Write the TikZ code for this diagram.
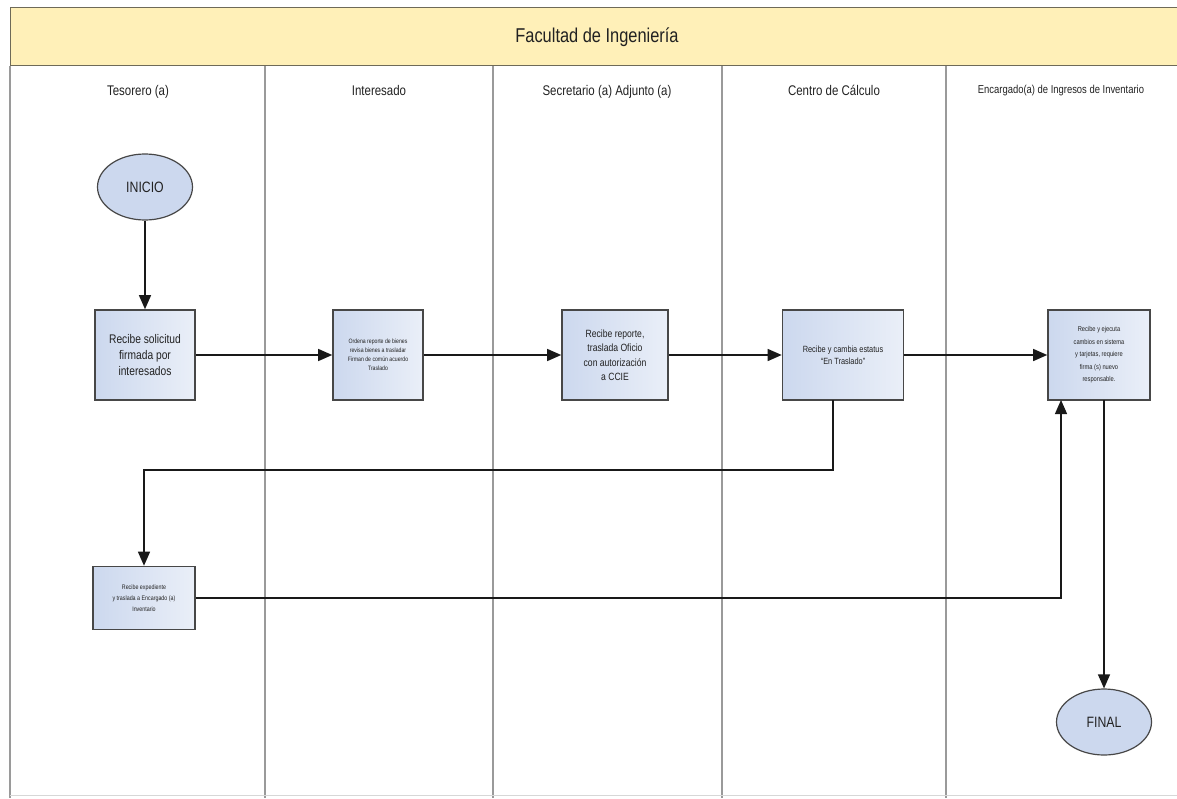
\documentclass[tikz,border=0pt]{standalone}
\usepackage{fontspec}
\setmainfont{Liberation Sans}[FakeStretch=0.82]
\usetikzlibrary{arrows.meta,shapes.geometric}
\definecolor{hdrfill}{HTML}{FFF0B8}
\definecolor{hdrline}{HTML}{6E6A58}
\definecolor{boxfillL}{HTML}{CCD8EE}
\definecolor{boxfillR}{HTML}{EAEFF8}
\definecolor{boxline}{HTML}{474747}
\definecolor{laneline}{HTML}{9A9A9A}
\definecolor{txt}{HTML}{222222}
\tikzset{
  procbox/.style={draw=boxline, line width=1.6pt, left color=boxfillL, right color=boxfillR, align=center, text=txt, inner sep=2pt},
  term/.style={ellipse, draw=boxline, line width=1.2pt, fill=boxfillL, text=txt, font=\fontsize{15}{16}\selectfont, minimum width=95pt, minimum height=66pt},
  lanetitle/.style={text=txt, font=\fontsize{14}{16}\selectfont, anchor=base},
  flow/.style={draw=black!90, line width=1.3pt, -{Triangle[length=14pt,width=12pt]}},
  lane/.style={draw=laneline, line width=1.2pt}
}
\begin{document}
\begin{tikzpicture}[x=1pt,y=-1pt]
\useasboundingbox (0,0) rectangle (1177,798);
\fill[white] (0,0) rectangle (1177,798);
% header
\node[draw=hdrline, line width=1.4pt, fill=hdrfill, minimum width=1175pt, minimum height=58pt, anchor=north west, inner sep=0pt] (hdr) at (10,7) {};
\node[text=txt, font=\fontsize{20}{22}\selectfont] (title) at (597,37) {Facultad de Ingeniería};
% lanes
\draw[lane] (10,66) -- (10,798);
\draw[lane] (265,66) -- (265,798);
\draw[lane] (493,66) -- (493,798);
\draw[lane] (722,66) -- (722,798);
\draw[lane] (946,66) -- (946,798);
\draw[draw=laneline!40, line width=0.8pt] (10,795) -- (1177,795);
\node[lanetitle] (t1) at (138,95) {Tesorero (a)};
\node[lanetitle] (t2) at (379,95) {Interesado};
\node[lanetitle] (t3) at (607,95) {Secretario (a) Adjunto (a)};
\node[lanetitle] (t4) at (834,95) {Centro de Cálculo};
\node[lanetitle, font=\fontsize{11.5}{13}\selectfont] (t5) at (1061,93) {Encargado(a) de Ingresos de Inventario};
% nodes
\node[term] (inicio) at (145,187) {INICIO};
\node[procbox, minimum width=100pt, minimum height=90pt, font=\fontsize{12.5}{16}\selectfont] (b1) at (145,355) {Recibe solicitud\\firmada por\\interesados};
\node[procbox, minimum width=90pt, minimum height=90pt, font=\fontsize{6.3}{9}\selectfont] (b2) at (378,355) {Ordena reporte de bienes\\revisa bienes a trasladar\\Firman de común acuerdo\\Traslado};
\node[procbox, minimum width=106pt, minimum height=90pt, font=\fontsize{10.5}{14.5}\selectfont] (b3) at (615,355) {Recibe reporte,\\traslada Oficio\\con autorización\\a CCIE};
\node[procbox, minimum width=121pt, minimum height=90pt, font=\fontsize{9}{12}\selectfont] (b4) at (843,355) {Recibe y cambia estatus\\``En Traslado''};
\node[procbox, minimum width=102pt, minimum height=90pt, font=\fontsize{7}{12.5}\selectfont] (b5) at (1099,355) {Recibe y ejecuta\\cambios en sistema\\y tarjetas, requiere\\firma (s) nuevo\\responsable.};
\node[procbox, minimum width=102pt, minimum height=63pt, font=\fontsize{6.5}{11}\selectfont] (b6) at (144,598) {Recibe expediente\\y traslada a Encargado (a)\\Inventario};
\node[term] (final) at (1104,722) {FINAL};
% connectors
\draw[flow] (inicio) -- (b1);
\draw[flow] (b1) -- (b2);
\draw[flow] (b2) -- (b3);
\draw[flow] (b3) -- (b4);
\draw[flow] (b4) -- (b5);
\coordinate (c4) at (833,400);
\draw[flow] (c4) |- (144,470) -- (b6.north);
\coordinate (c5) at (1061,400);
\draw[flow] (b6.east) -| (c5);
\coordinate (c5b) at (1104,400);
\draw[flow] (c5b) -- (final.north);
\end{tikzpicture}
\end{document}
